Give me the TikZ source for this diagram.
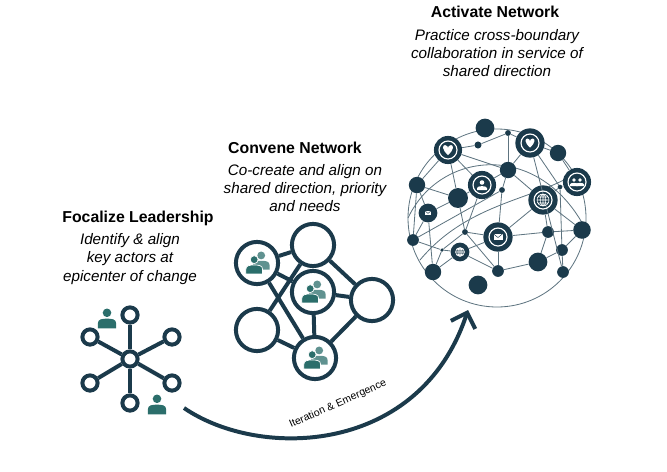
\documentclass[tikz,border=0pt]{standalone}
\usepackage{fontspec}
\setmainfont{Liberation Sans}
\usetikzlibrary{arrows.meta,calc}
\definecolor{navy}{HTML}{1B3A4B}
\definecolor{teal}{HTML}{2B6E6B}
\definecolor{wire}{HTML}{5E7480}
\tikzset{
  ring/.style={circle, draw=navy, line width=3.4pt, fill=white, minimum size=#1},
  dot/.style={circle, fill=navy, inner sep=0pt, minimum size=#1},
  link/.style={navy, line width=3.4pt},
  thin/.style={wire, line width=0.7pt},
  title/.style={font=\fontsize{13.5}{16}\selectfont\bfseries, text=black},
  blurb/.style={font=\fontsize{13}{15.5}\selectfont\itshape, align=center, text=black},
  person/.pic={
    \fill[teal] (0,-4) circle (3.3);
    \fill[teal] (-7,8) -- (-7,4) .. controls (-7,1) and (-4,0.5) .. (0,0.5)
      .. controls (4,0.5) and (7,1) .. (7,4) -- (7,8) -- cycle;
  },
  group/.pic={
    \begin{scope}[shift={(3,-2)},scale=0.85]
      \fill[teal!75] (0,-4) circle (3.3);
      \fill[teal!75] (-7,8) -- (-7,4) .. controls (-7,1) and (-4,0.5) .. (0,0.5)
        .. controls (4,0.5) and (7,1) .. (7,4) -- (7,8) -- cycle;
    \end{scope}
    \begin{scope}[shift={(-2,1)},scale=0.85]
      \fill[teal,draw=white,line width=0.6pt] (0,-4) circle (3.3);
      \fill[teal,draw=white,line width=0.6pt] (-7,8) -- (-7,4) .. controls (-7,1) and (-4,0.5) .. (0,0.5)
        .. controls (4,0.5) and (7,1) .. (7,4) -- (7,8) -- cycle;
    \end{scope}
  },
  wperson/.pic={
    \fill[white] (0,-2.5) circle (2.3);
    \fill[white] (-5,5) -- (-5,3) .. controls (-5,0.5) and (5,0.5) .. (5,3) -- (5,5) -- cycle;
  },
  heart/.pic={
    \fill[white] (0,5) .. controls (-6,0) and (-6,-5) .. (-3,-5)
      .. controls (-1,-5) and (0,-3) .. (0,-2) .. controls (0,-3) and (1,-5) .. (3,-5)
      .. controls (6,-5) and (6,0) .. (0,5);
  },
  mail/.pic={
    \draw[navy, fill=white, line width=0.4pt] (-5,-3.5) rectangle (5,3.5);
    \draw[navy, line width=0.4pt] (-5,-3.5) -- (0,0.5) -- (5,-3.5);
  },
  globe/.pic={
    \draw[white, line width=0.5pt] (0,0) circle (6) (0,0) ellipse (2.8 and 6)
      (-6,0) -- (6,0) (-5.2,-3) -- (5.2,-3) (-5.2,3) -- (5.2,3) (0,-6) -- (0,6);
  }
}
\begin{document}
\begin{tikzpicture}[x=0.03cm, y=-0.03cm]
  \useasboundingbox (0,0) rectangle (667,471);

  % texts
  \node[title] at (138,218) {Focalize Leadership};
  \node[blurb] at (130,259) {Identify \& align\\key actors at\\epicenter of change};
  \node[title] at (295,148) {Convene Network};
  \node[blurb] at (305,188) {Co-create and align on\\shared direction, priority\\and needs};
  \node[title] at (495,12) {Activate Network};
  \node[blurb] at (497,53) {Practice cross-boundary\\collaboration in service of\\shared direction};

  % focalize: star
  \node[ring=13pt] (hub) at (130,359) {};
  \foreach \n/\p in {top/{(130,315)}, bot/{(130,403)}, ul/{(90,337)}, ur/{(172,337)},
                     ll/{(90,383)}, lr/{(172,383)}} {
    \node[ring=13pt] (\n) at \p {};
    \draw[link] (hub) -- (\n);
  }
  \pic[scale=1.3] at (107,318) {person};
  \pic[scale=1.3] at (157,404) {person};

  % convene: network
  \node[ring=36pt] (na) at (257,263) {};
  \node[ring=36pt] (nb) at (313,245) {};
  \node[ring=36pt] (nc) at (313,292) {};
  \node[ring=36pt] (nd) at (372,300) {};
  \node[ring=36pt] (ne) at (257,330) {};
  \node[ring=36pt] (nf) at (315,358) {};
  \foreach \a/\b in {na/nb, na/nc, na/nf, nb/ne, nb/nd, nc/nd, nc/nf, ne/nf, nd/nf}
    \draw[link] (\a) -- (\b);
  \foreach \n in {na, nc, nf} \pic[scale=1.4] at (\n) {group};

  % activate: globe
  \draw[thin] (497,218) circle (89);
  \draw[thin] (408,218) .. controls (440,150) and (540,140) .. (586,230);
  \draw[thin] (420,260) .. controls (470,200) and (540,200) .. (580,170);
  \foreach \n/\p/\s in {
      g1/{(485,128)}/16pt, g2/{(448,150)}/24pt, g3/{(478,145)}/6pt, g4/{(508,133)}/5pt,
      g5/{(530,143)}/25pt, g6/{(558,153)}/14pt, g7/{(577,182)}/24pt, g8/{(508,170)}/14pt,
      g9/{(482,185)}/24pt, g10/{(502,190)}/5pt, g11/{(560,187)}/4pt, g12/{(417,185)}/14pt,
      g13/{(458,198)}/17pt, g14/{(428,213)}/16pt, g15/{(543,200)}/25pt, g16/{(413,240)}/10pt,
      g17/{(465,232)}/5pt, g18/{(498,237)}/25pt, g19/{(460,252)}/16pt, g20/{(548,232)}/10pt,
      g21/{(582,230)}/15pt, g22/{(562,250)}/10pt, g23/{(538,262)}/16pt, g24/{(433,272)}/14pt,
      g25/{(498,271)}/10pt, g26/{(563,272)}/10pt, g27/{(478,285)}/16pt, g28/{(442,250)}/3pt}
    \node[dot=\s] (\n) at \p {};
  \foreach \a/\b in {g2/g3, g3/g4, g4/g5, g4/g8, g2/g12, g2/g13, g2/g9, g2/g8, g5/g8,
      g5/g6, g5/g11, g5/g26, g6/g7, g7/g11, g8/g9, g8/g10, g8/g15, g10/g18, g10/g16,
      g9/g17, g12/g14, g12/g13, g13/g17, g13/g14, g14/g16, g14/g24, g16/g28, g28/g19,
      g28/g24, g17/g18, g17/g28, g18/g15, g18/g25, g18/g19, g18/g20, g15/g20, g15/g21,
      g15/g11, g20/g23, g20/g21, g21/g22, g22/g23, g22/g26, g23/g25, g25/g19, g25/g17,
      g24/g19, g11/g22, g9/g13, g12/g16}
    \draw[thin] (\a) -- (\b);
  \foreach \n in {g2, g5, g9, g15, g18, g7}
    \draw[white, line width=1pt] (\n) circle (9);
  \pic at (g2) {heart};
  \pic[scale=0.9] at (g5) {heart};
  \pic at (g9) {wperson};
  \pic[scale=0.8] at ($(g7)+(-3,0)$) {wperson};
  \pic[scale=0.8] at ($(g7)+(3,0)$) {wperson};
  \pic at (g18) {mail};
  \pic[scale=0.7] at (g14) {mail};
  \pic at (g15) {globe};
  \pic[scale=0.75] at (g19) {globe};

  % iteration arrow
  \coordinate (arcstart) at (184,408);
  \coordinate (arcend) at (468,310);
  \draw[navy, line width=3.4pt, -{Straight Barb[length=11pt, width=22pt, line width=3.4pt]}]
    (arcstart) .. controls (260,460) and (420,455) .. (arcend);
  \node[rotate=24, font=\fontsize{9}{10}\selectfont, text=black] (itlabel) at (338,404)
    {Iteration \& Emergence};
\end{tikzpicture}
\end{document}
